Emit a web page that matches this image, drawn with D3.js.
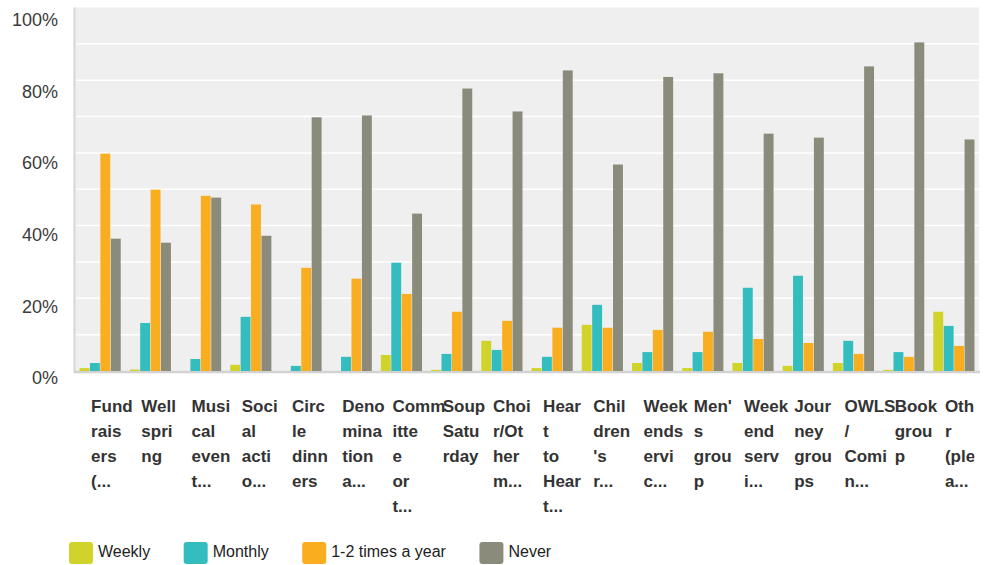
<!DOCTYPE html>
<html>
<head>
<meta charset="utf-8">
<script src="https://cdn.jsdelivr.net/npm/d3@7/dist/d3.min.js"></script>
<style>
  body { margin: 0; background: #fff; }
  text { font-family: "Liberation Sans", Arial, sans-serif; }
</style>
</head>
<body>
<div id="cont"></div>
<script>
// category labels, already wrapped the way the original shows them
var categories = [
    ["Fund", "rais", "ers", "(..."],
    ["Well", "spri", "ng"],
    ["Musi", "cal", "even", "t..."],
    ["Soci", "al", "acti", "o..."],
    ["Circ", "le", "dinn", "ers"],
    ["Deno", "mina", "tion", "a..."],
    ["Comm", "itte", "e", "or", "t..."],
    ["Soup", "Satu", "rday"],
    ["Choi", "r/Ot", "her", "m..."],
    ["Hear", "t", "to", "Hear", "t..."],
    ["Chil", "dren", "'s", "r..."],
    ["Week", "ends", "ervi", "c..."],
    ["Men'", "s", "grou", "p"],
    ["Week", "end", "serv", "i..."],
    ["Jour", "ney", "grou", "ps"],
    ["OWLS", "/", "Comi", "n..."],
    ["Book", "grou", "p"],
    ["Othe", "r", "(ple", "a..."]
];

var seriesNames = ["Weekly", "Monthly", "1-2 times a year", "Never"];
var seriesColors = ["#d0d42a", "#33bdbf", "#f8ae1e", "#8b8b7b"];

var weekly  = [0.8, 0.4, 0, 1.7, 0, 0, 4.4, 0.3, 8.3, 0.8, 12.7, 2.2, 0.8, 2.2, 1.4, 2.2, 0.3, 16.3];
var monthly = [2.2, 13.2, 3.3, 14.9, 1.4, 3.9, 29.8, 4.7, 5.8, 3.9, 18.2, 5.2, 5.2, 22.9, 26.2, 8.3, 5.2, 12.4];
var yearly  = [59.8, 49.9, 48.2, 45.8, 28.4, 25.4, 21.2, 16.3, 13.8, 11.9, 11.9, 11.3, 10.8, 8.8, 7.7, 4.7, 3.9, 6.9];
var never   = [36.4, 35.3, 47.7, 37.2, 69.8, 70.3, 43.3, 77.7, 71.4, 82.7, 56.8, 80.9, 81.9, 65.3, 64.2, 83.8, 90.4, 63.7];

var yTicks = [0, 20, 40, 60, 80, 100];

var series = [weekly, monthly, yearly, never];

var width = 985, height = 565;
var plotL = 75, plotR = 979, plotT = 7.5, plotB = 371;

var svg = d3.select("#cont").append("svg")
    .attr("width", width)
    .attr("height", height);

var x0 = d3.scaleBand()
    .domain(d3.range(categories.length))
    .range([plotL, plotR])
    .paddingInner(0.18)
    .paddingOuter(0.09);

var x1 = d3.scaleBand()
    .domain(d3.range(series.length))
    .range([0, x0.bandwidth()])
    .paddingInner(0.05);

var y = d3.scaleLinear().domain([0, 100]).range([plotB, plotT]);
// tick labels sit a little below their gridlines in the original
var yLab = d3.scaleLinear().domain([0, 100]).range([plotB + 7, plotT + 12.5]);

// plot background
svg.append("rect")
    .attr("x", plotL)
    .attr("y", plotT)
    .attr("width", plotR - plotL)
    .attr("height", plotB - plotT)
    .attr("fill", "#efefef");

// gridlines every 10%
svg.append("g")
    .selectAll("line")
    .data(d3.range(10, 100, 10))
    .enter().append("line")
    .attr("x1", plotL)
    .attr("x2", plotR)
    .attr("y1", function (d) { return y(d); })
    .attr("y2", function (d) { return y(d); })
    .attr("stroke", "#ffffff")
    .attr("stroke-width", 1.5);

// left + bottom axis lines
svg.append("line")
    .attr("x1", plotL - 0.5).attr("x2", plotL - 0.5)
    .attr("y1", plotT).attr("y2", plotB + 2)
    .attr("stroke", "#dcdcdc").attr("stroke-width", 2.5);
svg.append("line")
    .attr("x1", plotL - 1).attr("x2", plotR + 1)
    .attr("y1", plotB + 1).attr("y2", plotB + 1)
    .attr("stroke", "#d2d2d2").attr("stroke-width", 2.5);

// bars
var groups = svg.append("g")
    .selectAll("g")
    .data(categories.map(function (c, i) {
        return series.map(function (s, j) { return { cat: i, ser: j, value: s[i] }; });
    }))
    .enter().append("g")
    .attr("transform", function (d, i) { return "translate(" + x0(i) + ",0)"; });

groups.selectAll("rect")
    .data(function (d) { return d.filter(function (e) { return e.value > 0; }); })
    .enter().append("rect")
    .attr("x", function (d) { return x1(d.ser); })
    .attr("width", x1.bandwidth())
    .attr("y", function (d) { return y(d.value); })
    .attr("height", function (d) { return plotB - y(d.value); })
    .attr("fill", function (d) { return seriesColors[d.ser]; });

// y axis labels
var yAxis = svg.append("g")
    .attr("transform", "translate(" + plotL + ",0)")
    .call(d3.axisLeft(yLab).tickValues(yTicks).tickSize(0).tickPadding(17)
        .tickFormat(function (d) { return d + "%"; }));
yAxis.select(".domain").remove();
yAxis.selectAll("text")
    .attr("font-family", "'Liberation Sans', Arial, sans-serif")
    .attr("font-size", 18)
    .attr("fill", "#3a3a3a");

// x axis labels (clipped at the chart edge like the original)
svg.append("clipPath").attr("id", "labclip")
    .append("rect").attr("x", 0).attr("y", 380).attr("width", 974.5).attr("height", 140);

var labX = function (i) { return x0(i) + x0.bandwidth() / 2 - 9; };

var xl = svg.append("g").attr("clip-path", "url(#labclip)")
    .selectAll("text")
    .data(categories)
    .enter().append("text")
    .attr("x", function (d, i) { return labX(i); })
    .attr("y", 412)
    .attr("font-size", 17)
    .attr("font-weight", "bold")
    .attr("fill", "#333333");

xl.each(function (lines, i) {
    var t = d3.select(this);
    lines.forEach(function (ln, k) {
        t.append("tspan")
            .attr("x", labX(i))
            .attr("dy", k === 0 ? 0 : 25)
            .text(ln);
    });
});

// legend
var legend = svg.append("g").attr("transform", "translate(69,542)");
var lx = 0;
seriesNames.forEach(function (name, i) {
    var item = legend.append("g").attr("transform", "translate(" + lx + ",0)");
    item.append("rect")
        .attr("width", 24).attr("height", 22)
        .attr("rx", 3).attr("ry", 3)
        .attr("fill", seriesColors[i]);
    var t = item.append("text")
        .attr("x", 29)
        .attr("y", 15)
        .attr("font-size", 16)
        .attr("fill", "#222222")
        .text(name);
    lx += 29 + t.node().getComputedTextLength() + 33.5;
});
</script>
</body>
</html>
